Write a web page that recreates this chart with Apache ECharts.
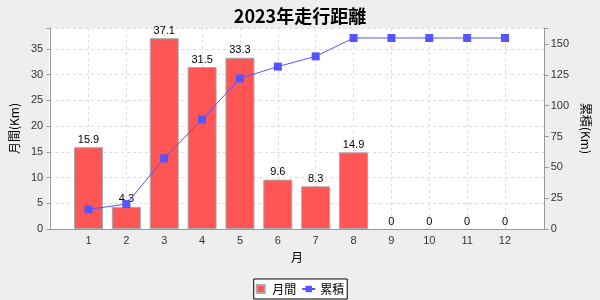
<!DOCTYPE html>
<html><head><meta charset="utf-8">
<script src="https://cdn.jsdelivr.net/npm/echarts@6/dist/echarts.min.js"></script>
<style>html,body{margin:0;padding:0;background:#eeeeee;}#c{width:600px;height:300px;}</style>
</head><body><div id="c"></div>
<script>
const months = ['1','2','3','4','5','6','7','8','9','10','11','12'];
const monthly = [15.9, 4.3, 37.1, 31.5, 33.3, 9.6, 8.3, 14.9, 0, 0, 0, 0];
const cumulative = [15.9, 20.2, 57.3, 88.8, 122.1, 131.7, 140.0, 154.9, 154.9, 154.9, 154.9, 154.9];
const leftTicks = [0, 5, 10, 15, 20, 25, 30, 35];
const rightTicks = [0, 25, 50, 75, 100, 125, 150];

const monthNums = months.map(m => Number(m));
const font = 'Liberation Sans, Arial, sans-serif';
const cjk = '"Noto Sans CJK JP", sans-serif';

const chart = echarts.init(document.getElementById('c'), null, {renderer: 'canvas'});
chart.setOption({
  backgroundColor: '#eeeeee',
  animation: false,
  title: {
    text: '2023年走行距離', left: 'center', top: 2,
    textStyle: {fontFamily: cjk, fontSize: 18, fontWeight: 'bold', color: '#000'}
  },
  legend: {
    bottom: 1, left: 'center',
    backgroundColor: '#ffffff', borderColor: '#000', borderWidth: 1,
    padding: [4, 3, 4, 2], itemGap: 5, itemWidth: 13, itemHeight: 8,
    symbolKeepAspect: true,
    textStyle: {fontFamily: cjk, fontSize: 12, color: '#000'},
    data: [{name: '月間', icon: 'path://M0,0h10v10h-10z'}, {name: '累積'}]
  },
  grid: {left: 49, right: 55, top: 28, bottom: 71, show: true, backgroundColor: '#ffffff', borderWidth: 0},
  xAxis: {
    type: 'value', min: -0.04, max: 13.05,
    name: '月', nameLocation: 'middle', nameGap: 22,
    nameTextStyle: {fontFamily: cjk, fontSize: 12, color: '#000'},
    axisLine: {show: true, lineStyle: {color: '#999999'}},
    axisTick: {show: false, customValues: monthNums},
    axisLabel: {customValues: monthNums, margin: 6, fontFamily: font, fontSize: 11, color: '#333',
      formatter: v => months[Math.round(v) - 1] || ''},
    splitLine: {show: true, lineStyle: {color: '#dddddd', type: [3, 3]}}
  },
  yAxis: [{
    type: 'value', min: 0, max: 39.08, interval: 5,
    name: '月間(Km)', nameLocation: 'middle', nameGap: 24, nameRotate: 90,
    nameTextStyle: {fontFamily: cjk, fontSize: 12, color: '#000'},
    axisLine: {show: true, lineStyle: {color: '#999999'}},
    axisTick: {show: true, length: 4, lineStyle: {color: '#999999'}},
    axisLabel: {margin: 6, fontFamily: font, fontSize: 11, color: '#333',
      formatter: v => leftTicks.indexOf(v) >= 0 ? String(v) : ''},
    splitLine: {show: true, lineStyle: {color: '#dddddd', type: [3, 3]}}
  }, {
    type: 'value', min: 0, max: 163, interval: 25, position: 'right',
    name: '累積(Km)', nameLocation: 'middle', nameGap: 31, nameRotate: -90,
    nameTextStyle: {fontFamily: cjk, fontSize: 12, color: '#000'},
    axisLine: {show: true, lineStyle: {color: '#999999'}},
    axisTick: {show: true, length: 4, lineStyle: {color: '#999999'}},
    axisLabel: {margin: 6, fontFamily: font, fontSize: 11, color: '#333',
      formatter: v => rightTicks.indexOf(v) >= 0 ? String(v) : ''},
    splitLine: {show: false}
  }],
  series: [{
    name: '月間', type: 'bar', yAxisIndex: 0, barWidth: 29,
    data: monthNums.map((m, i) => monthly[i] === 0
      ? {value: [m, monthly[i]], itemStyle: {borderWidth: 0}}
      : [m, monthly[i]]),
    itemStyle: {color: '#ff5555', borderColor: '#aaaaaa', borderWidth: 1},
    label: {show: true, position: 'top', distance: 2, fontFamily: font, fontSize: 11, color: '#000',
      formatter: p => String(p.value[1])}
  }, {
    name: '累積', type: 'line', yAxisIndex: 1,
    data: monthNums.map((m, i) => [m, cumulative[i]]),
    symbol: 'rect', symbolSize: 8, showAllSymbol: true,
    lineStyle: {color: '#5555ff', width: 1},
    itemStyle: {color: '#5555ff'}
  }]
});
</script></body></html>
